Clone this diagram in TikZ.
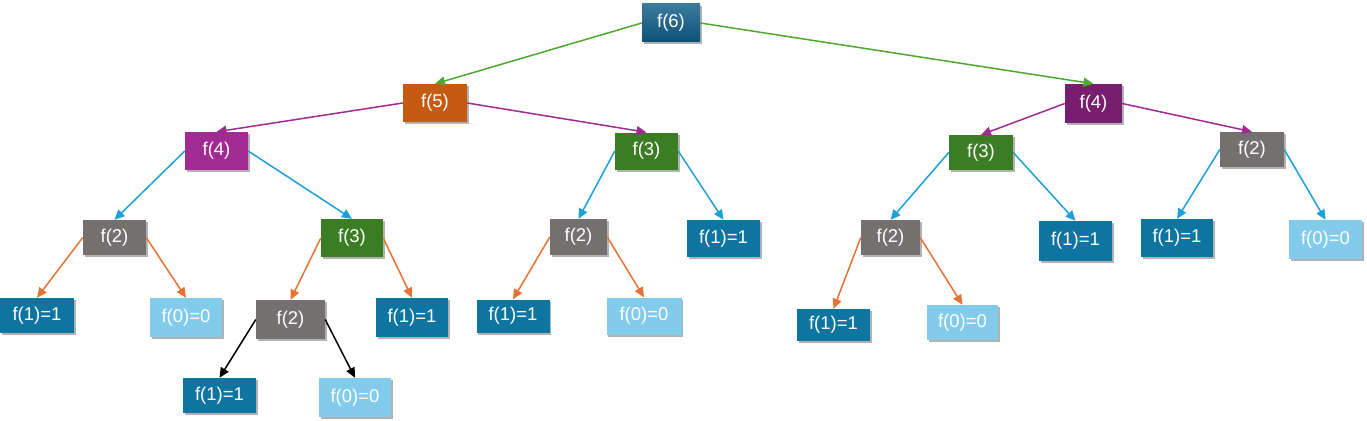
\documentclass[tikz,border=0pt]{standalone}
\usepackage{fontspec}
\setmainfont{Liberation Sans}
\usetikzlibrary{shadows,arrows.meta}
\definecolor{cRust}{HTML}{C55A11}
\definecolor{cMag}{HTML}{A02B93}
\definecolor{cPur}{HTML}{771E6E}
\definecolor{cGreen}{HTML}{3B7D23}
\definecolor{cGray}{HTML}{747070}
\definecolor{cBlue}{HTML}{0E75A0}
\definecolor{cLight}{HTML}{83CBEB}
\definecolor{eGreen}{HTML}{4EA72E}
\definecolor{ePur}{HTML}{A02B93}
\definecolor{eBlue}{HTML}{1CA0D8}
\definecolor{eOr}{HTML}{E97132}
\definecolor{gTop}{HTML}{3B7B9D}
\definecolor{gBot}{HTML}{0D5177}
\tikzset{
  nd/.style={rectangle, inner sep=0pt, text=white, font=\fontsize{18.5}{22}\selectfont,
    drop shadow={shadow xshift=1.5pt, shadow yshift=-2pt, opacity=0.3, fill=black}},
  ed/.style={line width=1.5pt, -{Triangle[length=10pt,width=9pt]}},
}
\begin{document}
\begin{tikzpicture}[x=1pt,y=-1pt]
\useasboundingbox (0,0) rectangle (1367,420);
% level 0-1
\node[nd, top color=gTop, bottom color=gBot, minimum width=58pt, minimum height=38pt] (n6) at (671,23) {f(6)};
\node[nd, fill=cRust, minimum width=64pt, minimum height=38pt] (n5) at (435,103) {f(5)};
\node[nd, fill=cPur, minimum width=57pt, minimum height=39pt] (n4b) at (1093.5,103.5) {f(4)};
% level 2
\node[nd, fill=cMag, minimum width=63pt, minimum height=38pt] (n4a) at (216.5,151) {f(4)};
\node[nd, fill=cGreen, minimum width=63pt, minimum height=37pt] (n3a) at (646.5,151) {f(3)};
\node[nd, fill=cGreen, minimum width=64pt, minimum height=35pt] (n3b) at (981,152.5) {f(3)};
\node[nd, fill=cGray, minimum width=64pt, minimum height=35pt] (n2a) at (1252,149.5) {f(2)};
% level 3
\node[nd, fill=cGray, minimum width=63pt, minimum height=35pt] (n2b) at (114.5,237.5) {f(2)};
\node[nd, fill=cGreen, minimum width=62pt, minimum height=38pt] (n3c) at (352,238) {f(3)};
\node[nd, fill=cGray, minimum width=57pt, minimum height=36pt] (n2c) at (578.5,237) {f(2)};
\node[nd, fill=cBlue, minimum width=73pt, minimum height=37pt] (n1a) at (723.5,238.5) {f(1)=1};
\node[nd, fill=cGray, minimum width=59pt, minimum height=35pt] (n2d) at (890.5,237.5) {f(2)};
\node[nd, fill=cBlue, minimum width=73pt, minimum height=40pt] (n1b) at (1075.5,241) {f(1)=1};
\node[nd, fill=cBlue, minimum width=72pt, minimum height=38pt] (n1c) at (1177,238) {f(1)=1};
\node[nd, fill=cLight, minimum width=73pt, minimum height=39pt] (n0a) at (1325.5,239.5) {f(0)=0};
% level 4
\node[nd, fill=cBlue, minimum width=74pt, minimum height=35pt] (n1d) at (37,315.5) {f(1)=1};
\node[nd, fill=cLight, minimum width=72pt, minimum height=39pt] (n0b) at (186,317.5) {f(0)=0};
\node[nd, fill=cGray, minimum width=69pt, minimum height=39pt] (n2e) at (290.5,319.5) {f(2)};
\node[nd, fill=cBlue, minimum width=72pt, minimum height=39pt] (n1e) at (412,317.5) {f(1)=1};
\node[nd, fill=cBlue, minimum width=73pt, minimum height=33pt] (n1f) at (513,316) {f(1)=1};
\node[nd, fill=cLight, minimum width=75pt, minimum height=37pt] (n0c) at (644,316) {f(0)=0};
\node[nd, fill=cBlue, minimum width=73pt, minimum height=32pt] (n1g) at (833.5,325) {f(1)=1};
\node[nd, fill=cLight, minimum width=71pt, minimum height=35pt] (n0d) at (962.5,322.5) {f(0)=0};
% level 5
\node[nd, fill=cBlue, minimum width=73pt, minimum height=35pt] (n1h) at (219.5,395.5) {f(1)=1};
\node[nd, fill=cLight, minimum width=72pt, minimum height=39pt] (n0e) at (355,397.5) {f(0)=0};
% edges
\draw[ed, eGreen] (n6.west) -- (n5.north);
\draw[ed, eGreen] (n6.east) -- (n4b.north);
\draw[ed, ePur] (n5.west) -- (n4a.north);
\draw[ed, ePur] (n5.east) -- (n3a.north);
\draw[ed, ePur] (n4b.west) -- (n3b.north);
\draw[ed, ePur] (n4b.east) -- (n2a.north);
\draw[ed, eBlue] (n4a.west) -- (n2b.north);
\draw[ed, eBlue] (n4a.east) -- (n3c.north);
\draw[ed, eBlue] (n3a.west) -- (n2c.north);
\draw[ed, eBlue] (n3a.east) -- (n1a.north);
\draw[ed, eBlue] (n3b.west) -- (n2d.north);
\draw[ed, eBlue] (n3b.east) -- (n1b.north);
\draw[ed, eBlue] (n2a.west) -- (n1c.north);
\draw[ed, eBlue] (n2a.east) -- (n0a.north);
\draw[ed, eOr] (n2b.west) -- (n1d.north);
\draw[ed, eOr] (n2b.east) -- (n0b.north);
\draw[ed, eOr] (n3c.west) -- (n2e.north);
\draw[ed, eOr] (n3c.east) -- (n1e.north);
\draw[ed, eOr] (n2c.west) -- (n1f.north);
\draw[ed, eOr] (n2c.east) -- (n0c.north);
\draw[ed, eOr] (n2d.west) -- (n1g.north);
\draw[ed, eOr] (n2d.east) -- (n0d.north);
\draw[ed, black] (n2e.west) -- (n1h.north);
\draw[ed, black] (n2e.east) -- (n0e.north);
\end{tikzpicture}
\end{document}
